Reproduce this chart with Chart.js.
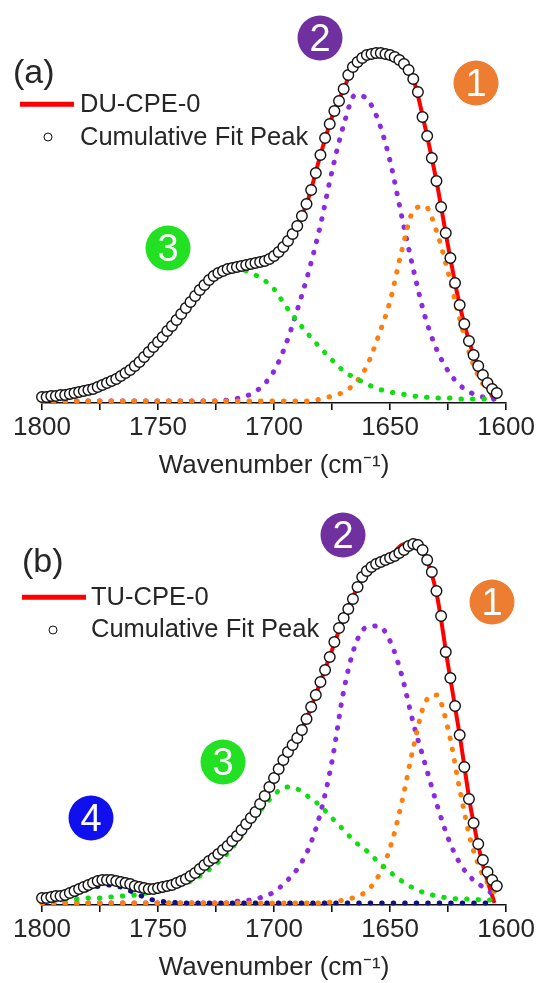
<!DOCTYPE html>
<html>
<head>
<meta charset="utf-8">
<script src="https://cdn.jsdelivr.net/npm/chart.js@4.4.1/dist/chart.umd.min.js"></script>
<style>
  body { margin: 0; width: 537px; height: 983px; overflow: hidden; background: #fff; position: relative;
         font-family: "Liberation Sans", Arial, sans-serif; color: #262626; }
  .panel { position: absolute; left: 0; width: 537px; height: 500px; }
  .txt { position: absolute; white-space: nowrap; line-height: 1; transform: translateY(-50%); }
  .line { position: absolute; height: 4.5px; background: #ff0000; transform: translateY(-50%); }
  .mark { position: absolute; width: 7px; height: 7px; border: 1.4px solid #111; border-radius: 50%;
          background: #fff; transform: translate(-50%, -50%); }
  .badge { position: absolute; width: 45px; height: 45px; border-radius: 50%; color: #fff; font-size: 38px;
           line-height: 45px; text-align: center; transform: translate(-50%, -50%); }
</style>
</head>
<body>
<div class="panel" style="top:0"><canvas id="chartA" width="537" height="500"></canvas></div>
<div class="panel" style="top:502px"><canvas id="chartB" width="537" height="500"></canvas></div>

<!-- panel (a) labels -->
<div class="txt" style="left:13px;top:71px;font-size:34px">(a)</div>
<div class="line" style="left:20px;top:104px;width:54px"></div>
<div class="txt" style="left:80px;top:104px;font-size:25.5px">DU-CPE-0</div>
<div class="mark" style="left:48px;top:137px"></div>
<div class="txt" style="left:80px;top:137px;font-size:25.5px">Cumulative Fit Peak</div>
<div class="badge" style="left:320px;top:38px;background:#7030a0">2</div>
<div class="badge" style="left:476px;top:83px;background:#ed7d31">1</div>
<div class="badge" style="left:168px;top:248px;background:#22e022">3</div>

<!-- panel (b) labels -->
<div class="txt" style="left:22px;top:560px;font-size:34px">(b)</div>
<div class="line" style="left:22px;top:597px;width:64px"></div>
<div class="txt" style="left:91px;top:597px;font-size:25.5px">TU-CPE-0</div>
<div class="mark" style="left:53px;top:630px"></div>
<div class="txt" style="left:91px;top:629px;font-size:25.5px">Cumulative Fit Peak</div>
<div class="badge" style="left:343px;top:535px;background:#7030a0">2</div>
<div class="badge" style="left:492px;top:602px;background:#ed7d31">1</div>
<div class="badge" style="left:223px;top:762px;background:#22e022">3</div>
<div class="badge" style="left:91px;top:818px;background:#1010ee">4</div>

<script>
// wavenumber grids (cm-1)
const wn2 = [1800, 1798, 1796, 1794, 1792, 1790, 1788, 1786, 1784, 1782,
             1780, 1778, 1776, 1774, 1772, 1770, 1768, 1766, 1764, 1762,
             1760, 1758, 1756, 1754, 1752, 1750, 1748, 1746, 1744, 1742,
             1740, 1738, 1736, 1734, 1732, 1730, 1728, 1726, 1724, 1722,
             1720, 1718, 1716, 1714, 1712, 1710, 1708, 1706, 1704, 1702,
             1700, 1698, 1696, 1694, 1692, 1690, 1688, 1686, 1684, 1682,
             1680, 1678, 1676, 1674, 1672, 1670, 1668, 1666, 1664, 1662,
             1660, 1658, 1656, 1654, 1652, 1650, 1648, 1646, 1644, 1642,
             1640, 1638, 1636, 1634, 1632, 1630, 1628, 1626, 1624, 1622,
             1620, 1618, 1616, 1614, 1612, 1610, 1608, 1606, 1604];
const wn5 = [1800, 1795, 1790, 1785, 1780, 1775, 1770, 1765, 1760, 1755,
             1750, 1745, 1740, 1735, 1730, 1725, 1720, 1715, 1710, 1705,
             1700, 1695, 1690, 1685, 1680, 1675, 1670, 1665, 1660, 1655,
             1650, 1645, 1640, 1635, 1630, 1625, 1620, 1615, 1610, 1605];
const xTicks = [1800, 1750, 1700, 1650, 1600];

// (a) DU-CPE-0, intensity in a.u.
const cumA = [4, 4, 5, 5, 6, 6, 7, 8, 9, 10,
              11, 12, 14, 16, 18, 20, 22, 25, 28, 31,
              35, 39, 44, 49, 54, 59, 64, 70, 75, 81,
              87, 93, 99, 105, 111, 116, 121, 125, 128, 130,
              132, 133, 134, 135, 136, 137, 138, 139, 140, 142,
              145, 149, 154, 160, 167, 175, 185, 197, 211, 228,
              246, 263, 277, 290, 300, 312, 326, 334, 339, 343,
              346, 347, 348, 348, 347, 346, 344, 341, 337, 331,
              322, 309, 284, 265, 243, 220, 194, 168, 143, 118,
              96, 77, 60, 46, 35, 26, 18, 12, 8];
const redA = [4, 5, 6, 8, 11, 15, 20, 26, 35, 46,
              59, 73, 87, 102, 117, 129, 134, 135, 137, 139,
              145, 157, 175, 204, 246, 284, 312, 337, 346, 348,
              346, 339, 322, 275, 220, 155, 96, 53, 24, 0];
const peak1A = [0, 0, 0, 0, 0, 0, 0, 0, 0, 0,
                0, 0, 0, 0, 0, 0, 0, 0, 0, 0,
                0, 0, 0, 0, 2, 5, 9, 18, 35, 65,
                100, 150, 190, 195, 170, 129, 82, 42, 17, 6];
const peak2A = [0, 0, 0, 0, 0, 0, 0, 0, 0, 0,
                0, 0, 0, 0, 0, 0, 1, 3, 7, 15,
                30, 56, 91, 130, 176, 230, 276, 306, 302, 280,
                240, 185, 132, 85, 52, 30, 16, 8, 4, 2];
const peak3A = [4, 5, 6, 8, 11, 15, 20, 26, 35, 46,
                59, 73, 87, 102, 116, 126, 131, 132, 128, 122,
                112, 95, 80, 66, 53, 41, 30, 23, 17, 12,
                9, 7, 5, 4, 3, 3, 2, 2, 2, 1];

// (b) TU-CPE-0
const cumB = [5, 5, 6, 7, 7, 8, 10, 12, 14, 16,
              18, 20, 22, 23, 23, 23, 22, 21, 20, 19,
              17, 16, 15, 14, 14, 15, 16, 17, 18, 20,
              22, 24, 27, 30, 34, 38, 42, 45, 49, 53,
              57, 62, 67, 73, 79, 85, 91, 99, 107, 116,
              125, 134, 143, 151, 158, 165, 173, 184, 196, 208,
              221, 233, 246, 261, 275, 285, 294, 304, 316, 326,
              332, 336, 339, 341, 343, 345, 347, 350, 353, 357,
              359, 358, 353, 343, 331, 312, 287, 251, 225, 197,
              168, 136, 104, 80, 59, 43, 31, 23, 17];
const redB = [5, 6, 8, 13, 18, 22, 23, 21, 17, 14,
              14, 17, 22, 29, 38, 47, 57, 70, 85, 103,
              125, 147, 165, 190, 221, 253, 285, 311, 332, 340,
              346, 358, 360, 347, 310, 238, 168, 92, 38, 0];
const peak1B = [0, 0, 0, 0, 0, 0, 0, 0, 0, 0,
                0, 0, 0, 0, 0, 0, 0, 0, 0, 0,
                0, 0, 0, 0, 0, 1, 3, 6, 12, 27,
                55, 100, 155, 200, 208, 174, 114, 60, 28, 11];
const peak2B = [0, 0, 0, 0, 0, 0, 0, 0, 0, 0,
                0, 0, 0, 0, 0, 0, 0, 2, 3, 6,
                11, 21, 34, 55, 90, 142, 212, 258, 276, 277,
                262, 228, 180, 140, 100, 65, 40, 25, 16, 8];
const peak3B = [3, 3, 4, 4, 5, 5, 6, 7, 8, 10,
                12, 15, 18, 23, 30, 39, 50, 64, 80, 95,
                108, 116, 114, 106, 97, 85, 73, 61, 52, 41,
                31, 22, 15, 10, 7, 5, 4, 4, 3, 3];
const peak4B = [2, 3, 5, 9, 14, 17, 18, 15, 10, 5,
                2, 1, 0, 0, 0, 0, 0, 0, 0, 0,
                0, 0, 0, 0, 0, 0, 0, 0, 0, 0,
                0, 0, 0, 0, 0, 0, 0, 0, 0, 0];

Chart.defaults.font.family = '"Liberation Sans", Arial, sans-serif';
Chart.defaults.color = '#262626';

const pairs = (xs, ys) => xs.map((x, i) => ({ x: x, y: ys[i] }));

function circles(ys) {
    return { data: pairs(wn2, ys), showLine: false, pointRadius: 5.3, pointBorderWidth: 1.4,
             pointBorderColor: '#111', pointBackgroundColor: '#fff', clip: false };
}
function dotted(ys, color) {
    return { data: pairs(wn5, ys), borderColor: color, borderWidth: 5, borderDash: [0.5, 11],
             borderCapStyle: 'round', pointRadius: 0, cubicInterpolationMode: 'monotone', clip: false };
}
function solid(ys) {
    return { data: pairs(wn5, ys), borderColor: '#ff0000', borderWidth: 4, pointRadius: 0,
             cubicInterpolationMode: 'monotone', clip: false };
}

function makeChart(id, datasets) {
    return new Chart(document.getElementById(id), {
        type: 'line',
        data: { datasets: datasets },
        options: {
            responsive: false,
            animation: false,
            layout: { padding: { left: 42, right: 28, top: 30, bottom: 0 } },
            plugins: { legend: { display: false }, tooltip: { enabled: false } },
            scales: {
                x: {
                    type: 'linear', reverse: true, min: 1600, max: 1800,
                    afterFit: (s) => { s.height = 97; },
                    border: { display: true, color: '#111', width: 1.6 },
                    grid: { drawOnChartArea: false, drawTicks: true, tickLength: 7, color: '#111', lineWidth: 1.6 },
                    ticks: { stepSize: 25, autoSkip: false, maxRotation: 0, padding: 2,
                             font: { size: 26 }, color: '#262626',
                             callback: (v) => xTicks.includes(v) ? String(v) : '' },
                    title: { display: true, text: 'Wavenumber (cm\u207B\u00B9)', font: { size: 26 },
                             color: '#262626', padding: { top: 0, bottom: 19 } }
                },
                y: { display: false, min: -2, max: 371 }
            }
        }
    });
}

// first dataset is drawn on top
makeChart('chartA', [
    circles(cumA),
    dotted(peak3A, '#11dd11'),
    dotted(peak1A, '#ff7f0e'),
    dotted(peak2A, '#8a2be2'),
    solid(redA)
]);
makeChart('chartB', [
    circles(cumB),
    dotted(peak4B, '#101080'),
    dotted(peak3B, '#11dd11'),
    dotted(peak1B, '#ff7f0e'),
    dotted(peak2B, '#8a2be2'),
    solid(redB)
]);
</script>
</body>
</html>
